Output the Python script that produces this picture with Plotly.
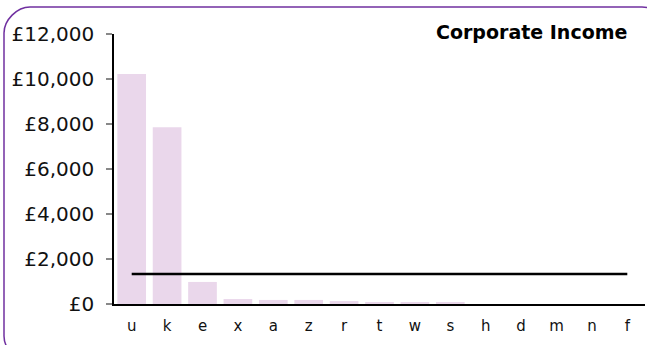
import plotly.graph_objects as go

categories = ["u", "k", "e", "x", "a", "z", "r", "t", "w", "s", "h", "d", "m", "n", "f"]
income = [10220, 7860, 980, 220, 180, 180, 130, 90, 70, 50, 0, 0, 0, 0, 0]
tick_values = [0, 2000, 4000, 6000, 8000, 10000, 12000]
tick_labels = ["£0", "£2,000", "£4,000", "£6,000", "£8,000", "£10,000", "£12,000"]

average = sum(income) / len(income)

W, H = 647, 345
L, R, T, B = 114, 2, 34, 41
pw, ph = W - L - R, H - T - B


def px(x):
    return (x - L) / pw


def py(y):
    return (H - B - y) / ph


fig = go.Figure()
fig.add_trace(go.Bar(
    x=categories, y=income,
    marker=dict(color="#EAD7EB", line=dict(width=0)),
    hoverinfo="x+y",
))
fig.add_trace(go.Scatter(
    x=categories, y=[average] * len(categories),
    mode="lines", line=dict(color="#000000", width=2.5),
    hoverinfo="skip",
))

# rounded purple frame around the chart
x0, y0, x1, y1, r = px(4), py(7), px(668), py(362), 26
rx, ry = r / pw, r / ph
frame = (
    f"M {x0},{y0 - ry} C {x0},{y0 - ry / 2} {x0 + rx / 2},{y0} {x0 + rx},{y0} "
    f"L {x1 - rx},{y0} C {x1 - rx / 2},{y0} {x1},{y0 - ry / 2} {x1},{y0 - ry} "
    f"L {x1},{y1 + ry} C {x1},{y1 + ry / 2} {x1 - rx / 2},{y1} {x1 - rx},{y1} "
    f"L {x0 + rx},{y1} C {x0 + rx / 2},{y1} {x0},{y1 + ry / 2} {x0},{y1 + ry} Z"
)
fig.add_shape(type="path", path=frame, xref="paper", yref="paper",
              line=dict(color="#7030A0", width=1.5), layer="below")

fig.add_annotation(
    text="<b>Corporate Income</b>", x=px(629), y=py(32), xref="paper", yref="paper",
    xanchor="right", yanchor="middle", showarrow=False,
    font=dict(family="DejaVu Sans", size=19, color="#000000"),
)

fig.update_layout(
    width=W, height=H,
    margin=dict(l=L, r=R, t=T, b=B, pad=0),
    paper_bgcolor="#FFFFFF", plot_bgcolor="#FFFFFF",
    showlegend=False, bargap=0.19,
    font=dict(family="DejaVu Sans", color="#111111"),
)
fig.update_xaxes(
    range=[-0.5, len(categories) - 0.5], showgrid=False, zeroline=False,
    showline=True, linecolor="#000000", linewidth=1.5,
    ticks="", tickfont=dict(size=15), ticklabelstandoff=7,
)
fig.update_yaxes(
    range=[0, 12000], tickvals=tick_values, ticktext=tick_labels,
    showgrid=False, zeroline=False,
    showline=True, linecolor="#000000", linewidth=1.5,
    ticks="outside", ticklen=6, tickcolor="#888888", tickwidth=1.5,
    tickfont=dict(size=20), ticklabelstandoff=8,
)

fig.write_html("out.html")
